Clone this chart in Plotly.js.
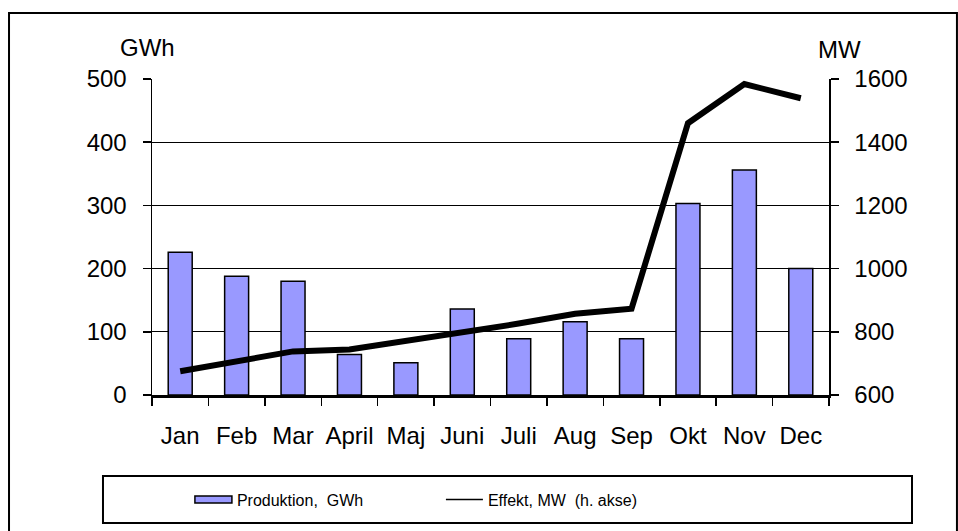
<!DOCTYPE html>
<html>
<head>
<meta charset="utf-8">
<script src="https://cdn.plot.ly/plotly-3.0.1.min.js"></script>
<style>
html,body{margin:0;padding:0;background:#fff;}
#chart{width:958px;height:531px;}
</style>
</head>
<body>
<div id="chart"></div>
<script>
// Data
const months = ['Jan','Feb','Mar','April','Maj','Juni','Juli','Aug','Sep','Okt','Nov','Dec'];
const produktionGWh = [226,188,180,64,51,136,89,116,89,303,356,200];
const effektMW = [675,707,738,744,770,797,826,857,873,1460,1584,1539];
const leftTicks = [0,100,200,300,400,500];
const rightTicks = [600,800,1000,1200,1400,1600];
const barName = 'Produktion,\u00a0 GWh';
const lineName = 'Effekt, MW\u00a0 (h. akse)';

const FONT = 'Arial, "Liberation Sans", sans-serif';

const traces = [
  {
    type: 'bar', x: months, y: produktionGWh, name: barName,
    marker: {color: '#9999FF', line: {color: '#000', width: 1.5}},
    yaxis: 'y', hoverinfo: 'x+y'
  },
  {
    type: 'scatter', mode: 'lines', x: months, y: effektMW, name: lineName,
    line: {color: '#000', width: 6}, yaxis: 'y2'
  }
];

const layout = {
  width: 958, height: 531,
  margin: {l: 152, r: 129, t: 79, b: 136},
  paper_bgcolor: '#fff', plot_bgcolor: '#fff',
  font: {family: FONT, size: 24, color: '#000'},
  showlegend: true,
  bargap: 0.575,
  xaxis: {
    type: 'category', tickson: 'boundaries', ticks: 'outside', ticklen: 8,
    tickwidth: 1.5, tickcolor: '#000', showline: true, linecolor: '#000', linewidth: 2.5,
    showgrid: false, zeroline: false, ticklabelstandoff: 18, tickangle: 0,
    tickfont: {family: FONT, size: 24, color: '#000'}
  },
  yaxis: {
    range: [0, 500], tickvals: leftTicks, ticktext: leftTicks.map(String),
    ticks: 'outside', ticklen: 8, tickwidth: 1.5, tickcolor: '#000',
    showline: true, linecolor: '#000', linewidth: 1.5,
    showgrid: true, gridcolor: '#000', gridwidth: 1, zeroline: false,
    ticklabelstandoff: 11, fixedrange: true,
    tickfont: {family: FONT, size: 24, color: '#000'}
  },
  yaxis2: {
    range: [600, 1600], tickvals: rightTicks, ticktext: rightTicks.map(String),
    overlaying: 'y', side: 'right',
    ticks: 'outside', ticklen: 8, tickwidth: 1.5, tickcolor: '#000',
    showline: true, linecolor: '#000', linewidth: 1.5,
    showgrid: false, zeroline: false, ticklabelstandoff: 11,
    tickfont: {family: FONT, size: 24, color: '#000'}
  },
  legend: {
    orientation: 'h', x: 0.056, xanchor: 'left', y: -0.331, yanchor: 'middle',
    bgcolor: 'rgba(0,0,0,0)', borderwidth: 0,
    font: {family: FONT, size: 16, color: '#000'},
    itemwidth: 37, entrywidth: 199, entrywidthmode: 'pixels',
    traceorder: 'normal'
  },
  annotations: [
    {text: 'GWh', xref: 'paper', yref: 'paper', x: -0.006, y: 1.10, xanchor: 'center', yanchor: 'middle',
     showarrow: false, font: {family: FONT, size: 24, color: '#000'}},
    {text: 'MW', xref: 'paper', yref: 'paper', x: 1.0157, y: 1.092, xanchor: 'center', yanchor: 'middle',
     showarrow: false, font: {family: FONT, size: 24, color: '#000'}}
  ],
  shapes: [
    // outer chart border
    {type: 'rect', xref: 'paper', yref: 'paper', x0: -0.2112, x1: 1.189, y0: -0.47, y1: 1.2089,
     line: {color: '#000', width: 2}, fillcolor: 'rgba(0,0,0,0)', layer: 'below'},
    // legend box
    {type: 'rect', xref: 'paper', yref: 'paper', x0: -0.0724, x1: 1.1226, y0: -0.405, y1: -0.2563,
     line: {color: '#000', width: 2}, fillcolor: 'rgba(0,0,0,0)', layer: 'below'}
  ]
};

Plotly.newPlot('chart', traces, layout, {displayModeBar: false, staticPlot: true}).then(function (gd) {
  // Excel-style legend keys: wide flat bar swatch, thin line key
  gd.querySelectorAll('.legend .legendpoints path').forEach(function (p) {
    p.setAttribute('d', 'M18.5,3.5H-18.5V-3.5H18.5Z');
  });
  gd.querySelectorAll('.legend .legendlines path').forEach(function (p) {
    p.style.strokeWidth = '1.5px';
  });
});
</script>
</body>
</html>
